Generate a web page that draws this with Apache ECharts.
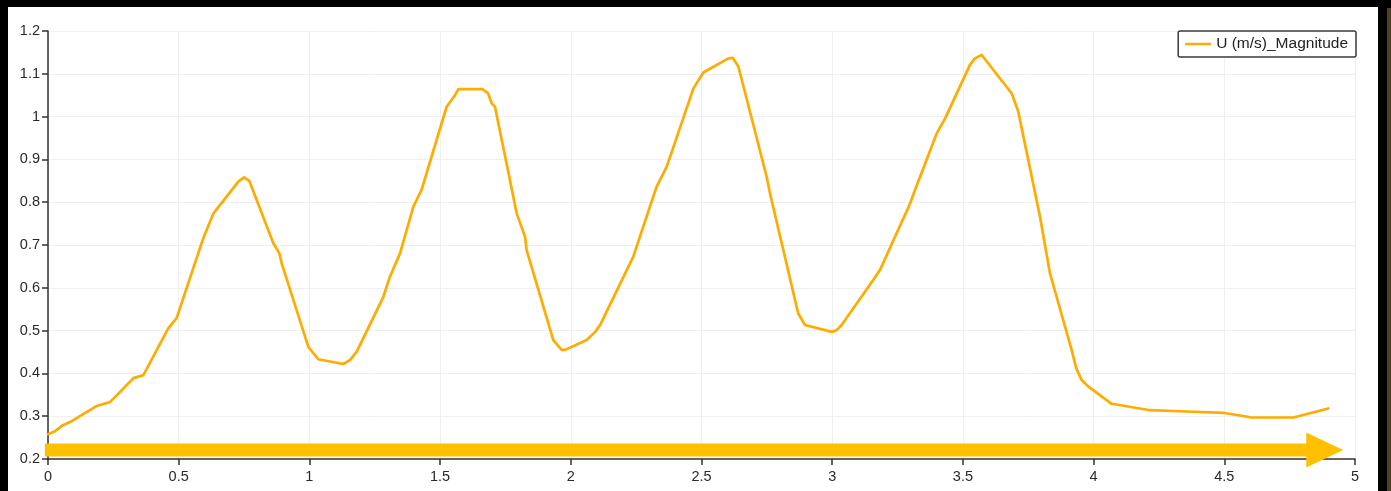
<!DOCTYPE html>
<html>
<head>
<meta charset="utf-8">
<script src="https://cdn.jsdelivr.net/npm/echarts@6/dist/echarts.min.js"></script>
<style>
  html, body { margin: 0; padding: 0; background: #000; width: 1391px; height: 491px; overflow: hidden; }
  #panel { position: absolute; left: 8px; top: 7px; width: 1370px; height: 484px; background: #fff; }
  #edge { position: absolute; left: 1387px; top: 8px; width: 4px; height: 483px; background: #4a4420; }
  #chart { position: absolute; left: 0; top: 0; width: 1391px; height: 491px; }
</style>
</head>
<body>
<div id="panel"></div>
<div id="edge"></div>
<div id="chart"></div>
<script>
// Arc length along the sampling line (m)
const arcLength = [
  0.000, 0.027, 0.057, 0.092, 0.187, 0.237, 0.327, 0.365, 0.460, 0.492,
  0.594, 0.633, 0.728, 0.750, 0.770, 0.862, 0.885, 0.894, 0.996, 1.034,
  1.130, 1.155, 1.181, 1.283, 1.308, 1.347, 1.398, 1.429, 1.525, 1.557,
  1.570, 1.663, 1.684, 1.697, 1.710, 1.793, 1.825, 1.831, 1.933, 1.965,
  1.978, 2.061, 2.093, 2.112, 2.220, 2.239, 2.328, 2.367, 2.469, 2.507,
  2.603, 2.620, 2.641, 2.749, 2.762, 2.870, 2.896, 2.998, 3.017, 3.036,
  3.157, 3.183, 3.298, 3.317, 3.400, 3.432, 3.527, 3.546, 3.572, 3.687,
  3.712, 3.795, 3.833, 3.916, 3.933, 3.954, 3.980, 4.069, 4.216, 4.356,
  4.496, 4.605, 4.764, 4.809, 4.898
];
// Velocity magnitude at each sample (m/s)
const velocityMag = [
  0.258, 0.265, 0.279, 0.289, 0.324, 0.333, 0.389, 0.396, 0.505, 0.529,
  0.716, 0.774, 0.848, 0.858, 0.850, 0.704, 0.681, 0.657, 0.462, 0.433,
  0.422, 0.431, 0.451, 0.579, 0.626, 0.681, 0.790, 0.829, 1.023, 1.050,
  1.064, 1.064, 1.054, 1.031, 1.023, 0.774, 0.719, 0.688, 0.478, 0.455,
  0.455, 0.478, 0.497, 0.513, 0.649, 0.673, 0.836, 0.883, 1.066, 1.103,
  1.136, 1.137, 1.117, 0.860, 0.821, 0.540, 0.513, 0.497, 0.501, 0.513,
  0.618, 0.642, 0.797, 0.829, 0.961, 0.996, 1.121, 1.136, 1.144, 1.054,
  1.011, 0.766, 0.634, 0.455, 0.413, 0.385, 0.369, 0.329, 0.314, 0.311,
  0.308, 0.297, 0.297, 0.304, 0.318
];
const seriesName = 'U (m/s)_Magnitude';
const xTicks = { min: 0, max: 5, step: 0.5 };
const yTicks = { min: 0.2, max: 1.2, step: 0.1 };
// Flow-direction arrow along the bottom of the plot, in data units
const arrowFrom = [-0.012, 0.221];
const arrowTo = [4.955, 0.221];

const points = arcLength.map((x, i) => [x, velocityMag[i]]);

const chart = echarts.init(document.getElementById('chart'), null, { renderer: 'canvas' });
const fontFamily = 'Liberation Sans, Arial, sans-serif';
const axisText = { color: '#2a2a2a', fontSize: 14.5, fontFamily: fontFamily };

chart.setOption({
  backgroundColor: 'transparent',
  animation: false,
  grid: { left: 48, right: 36, top: 31, bottom: 32 },
  legend: {
    data: [{ name: seriesName, icon: 'rect' }],
    top: 31,
    right: 35,
    itemWidth: 26,
    itemHeight: 2.5,
    itemGap: 4,
    padding: [5, 8, 5, 7],
    borderColor: '#3a3a3a',
    borderWidth: 1.5,
    borderRadius: 2,
    backgroundColor: '#fff',
    textStyle: { color: '#222', fontSize: 15.5, fontFamily: fontFamily, padding: [0, 0, 0, 0] }
  },
  xAxis: {
    type: 'value',
    min: xTicks.min,
    max: xTicks.max,
    interval: xTicks.step,
    axisLine: { show: true, lineStyle: { color: '#333', width: 1.5 } },
    axisTick: { show: true, length: 6, lineStyle: { color: '#333', width: 1.5 } },
    axisLabel: Object.assign({ margin: 10 }, axisText),
    splitLine: { show: true, lineStyle: { color: '#f0f0f0', width: 1 } }
  },
  yAxis: {
    type: 'value',
    min: yTicks.min,
    max: yTicks.max,
    interval: yTicks.step,
    axisLine: { show: true, lineStyle: { color: '#333', width: 1.5 } },
    axisTick: { show: true, length: 6, lineStyle: { color: '#333', width: 1.5 } },
    axisLabel: Object.assign({ margin: 8 }, axisText),
    splitLine: { show: true, lineStyle: { color: '#f0f0f0', width: 1 } }
  },
  series: [{
    name: seriesName,
    type: 'line',
    data: points,
    showSymbol: false,
    symbol: 'none',
    smooth: false,
    color: '#ffab00',
    lineStyle: { color: '#ffab00', width: 2.7, join: 'round', cap: 'round' },
    z: 3
  }]
});

// Thick arrow placed through the axes' own pixel conversion
function drawArrow() {
  const p0 = chart.convertToPixel({ gridIndex: 0 }, arrowFrom);
  const p1 = chart.convertToPixel({ gridIndex: 0 }, arrowTo);
  const shaft = 13, headLen = 37, headHalf = 17.5;
  const yc = p0[1];
  const baseX = p1[0] - headLen;
  chart.setOption({
    graphic: [{
      type: 'polygon',
      z: 10,
      shape: {
        points: [
          [p0[0], yc - shaft / 2], [baseX, yc - shaft / 2], [baseX, yc - headHalf],
          [p1[0], yc], [baseX, yc + headHalf], [baseX, yc + shaft / 2], [p0[0], yc + shaft / 2]
        ]
      },
      style: { fill: '#ffc000' }
    }]
  });
}
drawArrow();
</script>
</body>
</html>
